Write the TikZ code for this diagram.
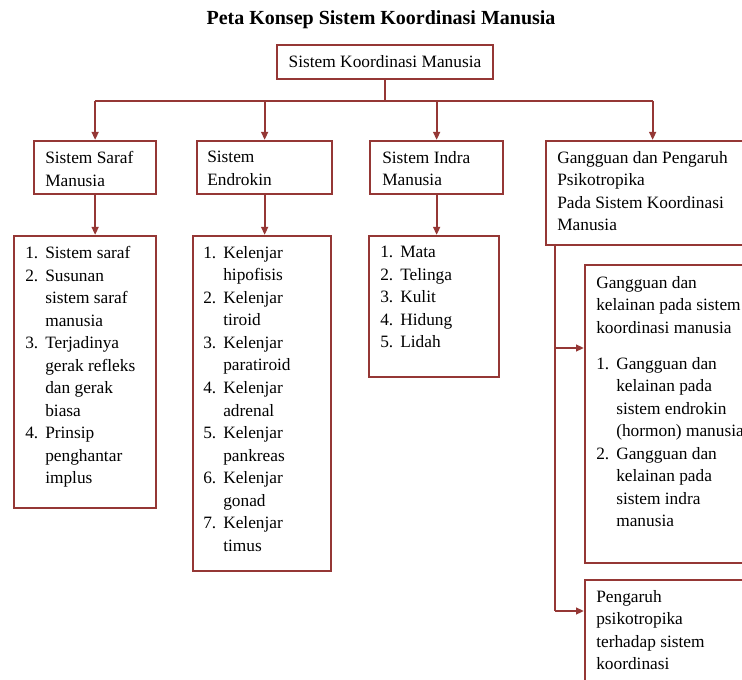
\documentclass[tikz,border=0pt]{standalone}
\usepackage{fontspec}
\setmainfont{Liberation Serif}
\usetikzlibrary{arrows.meta,calc}
\definecolor{dred}{RGB}{149,55,53}
\newcommand{\numit}[1]{\makebox[15pt][l]{#1}}
\newcommand{\contl}{\hspace*{15pt}}
\begin{document}
\begin{tikzpicture}[x=0.75pt,y=-0.75pt,
  box/.style={draw=dred,line width=1.7pt,inner sep=0pt},
  txt/.style={anchor=north west,inner sep=0pt,align=left,font=\fontsize{13}{16.9}\selectfont},
  conn/.style={draw=dred,line width=1.5pt},
  arr/.style={conn,-{Triangle[length=6pt,width=5pt]}}]
\useasboundingbox (0,0) rectangle (742,680);
\clip (0,0) rectangle (742,680);
\node[font=\fontsize{15}{18}\selectfont\bfseries] (title) at (381,20) {Peta Konsep Sistem Koordinasi Manusia};
% boxes
\node[box,font=\fontsize{13}{16.9}\selectfont,minimum width=162pt,minimum height=25.5pt] (top) at (385,62) {Sistem Koordinasi Manusia};
\node[box,anchor=north west,minimum width=91.5pt,minimum height=39.75pt] (saraf) at (33,140) {};
\node[box,anchor=north west,minimum width=101.25pt,minimum height=39.75pt] (endo) at (196,140) {};
\node[box,anchor=north west,minimum width=99.75pt,minimum height=39.75pt] (indra) at (369,140) {};
\node[box,anchor=north west,minimum width=159.75pt,minimum height=78pt] (gang) at (545,140) {};
\node[box,anchor=north west,minimum width=106.5pt,minimum height=204pt] (l1) at (13,235) {};
\node[box,anchor=north west,minimum width=103.5pt,minimum height=251.25pt] (l2) at (192,235) {};
\node[box,anchor=north west,minimum width=97.5pt,minimum height=105.75pt] (l3) at (368,235) {};
\node[box,anchor=north west,minimum width=135pt,minimum height=223.5pt] (g1) at (584,264) {};
\node[box,anchor=north west,minimum width=135pt,minimum height=100pt] (g2) at (584,579) {};
% texts
\node[txt] (tsaraf) at (45,151) {Sistem Saraf\\Manusia};
\node[txt] (tendo) at (207,151) {Sistem\\Endrokin};
\node[txt] (tindra) at (382,151) {Sistem Indra\\Manusia};
\node[txt] (tgang) at (557,151) {Gangguan dan Pengaruh\\Psikotropika\\Pada Sistem Koordinasi\\Manusia};
\node[txt] (tl1) at (25,246) {\numit{1.}Sistem saraf\\
\numit{2.}Susunan\\
\contl sistem saraf\\
\contl manusia\\
\numit{3.}Terjadinya\\
\contl gerak refleks\\
\contl dan gerak\\
\contl biasa\\
\numit{4.}Prinsip\\
\contl penghantar\\
\contl implus};
\node[txt] (tl2) at (203,246) {\numit{1.}Kelenjar\\
\contl hipofisis\\
\numit{2.}Kelenjar\\
\contl tiroid\\
\numit{3.}Kelenjar\\
\contl paratiroid\\
\numit{4.}Kelenjar\\
\contl adrenal\\
\numit{5.}Kelenjar\\
\contl pankreas\\
\numit{6.}Kelenjar\\
\contl gonad\\
\numit{7.}Kelenjar\\
\contl timus};
\node[txt] (tl3) at (380,246) {\numit{1.}Mata\\
\numit{2.}Telinga\\
\numit{3.}Kulit\\
\numit{4.}Hidung\\
\numit{5.}Lidah};
\node[txt] (tg1) at (596,276) {Gangguan dan\\
kelainan pada sistem\\
koordinasi manusia\\[10pt]
\numit{1.}Gangguan dan\\
\contl kelainan pada\\
\contl sistem endrokin\\
\contl (hormon) manusia\\
\numit{2.}Gangguan dan\\
\contl kelainan pada\\
\contl sistem indra\\
\contl manusia};
\node[txt] (tg2) at (596,590) {Pengaruh\\psikotropika\\terhadap sistem\\koordinasi};
% connectors
\coordinate (hub) at (381,101);
\draw[conn] (top.south) -- (top.south |- hub);
\draw[conn] (saraf.north |- hub) -- (gang.north |- hub);
\draw[arr] (saraf.north |- hub) -- (saraf.north);
\draw[arr] (endo.north |- hub) -- (endo.north);
\draw[arr] (indra.north |- hub) -- (indra.north);
\draw[arr] (gang.north |- hub) -- (gang.north);
\draw[arr] (saraf.south) -- (saraf.south |- l1.north);
\draw[arr] (endo.south) -- (endo.south |- l2.north);
\draw[arr] (indra.south) -- (indra.south |- l3.north);
\coordinate (sp) at (555,244);
\coordinate (j1) at (555,348);
\coordinate (j2) at (555,611);
\draw[conn] (sp) -- (j2);
\draw[arr] (j1) -- (j1 -| g1.west);
\draw[arr] (j2) -- (j2 -| g2.west);
\end{tikzpicture}
\end{document}
